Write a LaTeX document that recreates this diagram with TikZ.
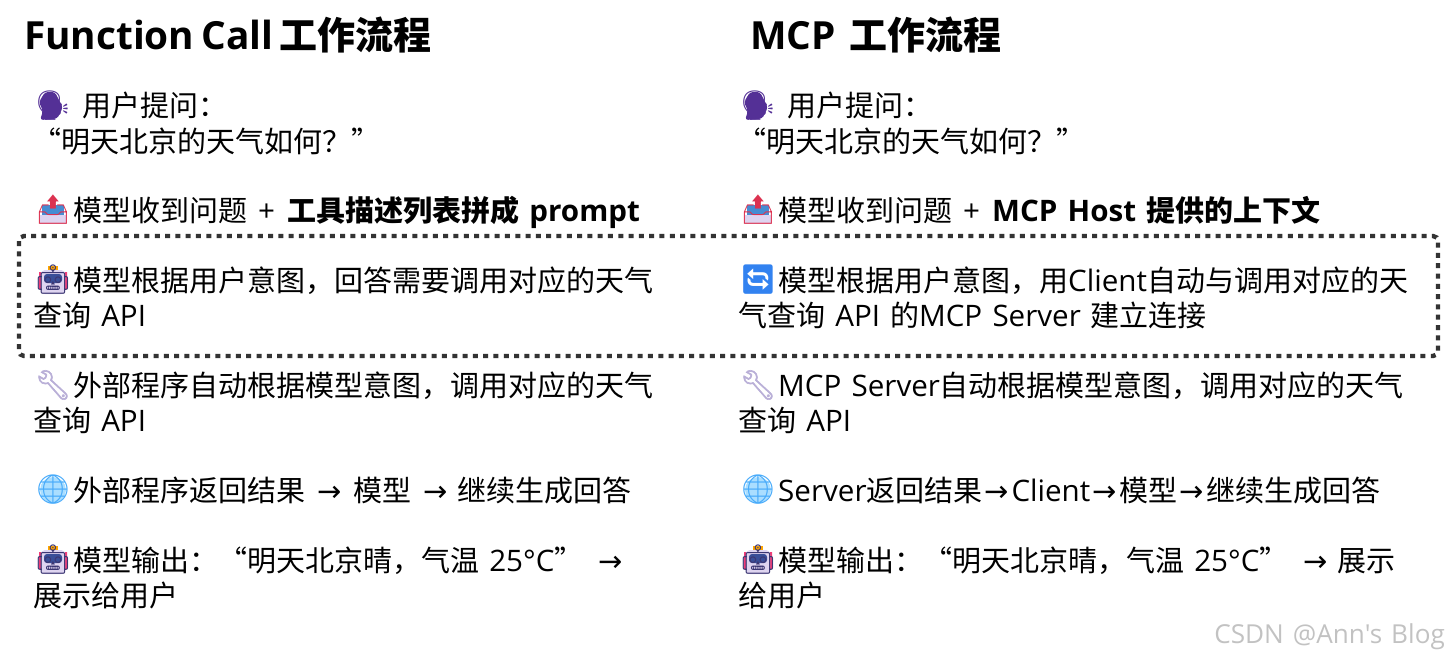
\documentclass[tikz,border=0pt]{standalone}
\usepackage{xcolor}
\usepackage{fontspec}
\setmainfont[WordSpace=1.55]{Noto Sans CJK SC}
\newfontfamily\latfont[WordSpace=1.33,Scale=1.02]{Open Sans}
\newfontfamily\arrfont{DejaVu Sans}
\newfontfamily\emofont{Noto Emoji}
\newfontfamily\emogrueso[FakeBold=2]{Noto Emoji}
\newcommand{\lat}[1]{{\latfont #1}}
\newcommand{\arr}{{\arrfont →}}
\definecolor{marco}{RGB}{51,51,51}
\definecolor{morado}{RGB}{84,48,150}
\definecolor{rojo}{RGB}{220,50,80}
\definecolor{lavanda}{RGB}{222,212,240}
\definecolor{rosa}{RGB}{240,60,120}
\definecolor{marino}{RGB}{60,55,115}
\definecolor{azul}{RGB}{50,130,240}
\definecolor{bandeja}{RGB}{70,140,210}
\definecolor{llave}{RGB}{185,175,215}
\definecolor{globo}{RGB}{70,170,250}
\definecolor{celeste}{RGB}{170,222,255}

\begin{document}
\begin{tikzpicture}[
  x=1pt, y=-1pt,
  linea/.style={anchor=base west, inner sep=0pt, yshift=-1pt, font=\fontsize{29}{35}\selectfont},
  titulo/.style={anchor=base west, inner sep=0pt, font=\fontsize{38}{44}\selectfont\bfseries},
  emoji/.style={inner sep=0pt, font=\fontsize{29}{35}\selectfont\emofont},
  marco/.style={draw=marco, line width=4.4pt, rounded corners=5pt, dash pattern=on 5pt off 5.3pt},
  cabeza/.pic={\fill[morado, rounded corners=3pt] (-14,-4) -- (-8,-14) -- (2,-14) -- (6,-6) -- (10,2) -- (7,6)
                -- (6,11) -- (1,13) -- (-13,14) -- (-10,5) -- cycle;},
  entrada/.pic={\fill[bandeja] (-11,-5) rectangle (11,8);
                \fill[lavanda] (-13,5) rectangle (13,14);},
  robotin/.pic={\fill[rosa] (-14,-8) rectangle (-12,9) (12,-8) rectangle (14,9);
                \fill[orange!70!yellow] (-5,-14) rectangle (5,-10);
                \fill[lavanda, rounded corners=4pt] (-12,-10) rectangle (12,14);
                \fill[marino!70!azul, rounded corners=3pt] (-9,-6) rectangle (9,3);},
  mundo/.pic={\fill[celeste] (0,0) circle (13);}
]
\useasboundingbox (0,0) rectangle (1448,659);

\node[titulo] (tfc) at (24,49) {\lat{Function\hspace{-6pt} Call}\hspace{-8pt} 工作流程};
\node[titulo] (tmcp) at (750,49) {\lat{MCP} 工作流程};

% columna izquierda
\pic at (53,106) {cabeza};
\node[emoji, morado] (e1) at (53,106) {^^^^^^01f5e3};
\node[linea] (a1) at (82,115) {用户提问：};
\node[linea] (a1b) at (32,151) {“明天北京的天气如何？”};
\pic at (53,210) {entrada};
\node[emoji, rojo] (e2) at (53,210) {^^^^^^01f4e4};
\node[linea] (a2) at (73,220) {模型收到问题\hspace{11pt}\lat{+}\hspace{12pt}\textbf{工具描述列表拼成 \lat{prompt}}};
\pic at (53,280) {robotin};
\node[emoji, marino] (e3) at (53,280) {^^^^^^01f916};
\node[linea] (a3) at (73,290) {模型根据用户意图，回答需要调用对应的天气};
\node[linea] (a3b) at (33,325) {查询 \lat{API}};
\node[emoji, llave, font=\fontsize{29}{35}\selectfont\emogrueso] (e4) at (53,385) {^^^^^^01f527};
\node[linea] (a4) at (73,395) {外部程序自动根据模型意图，调用对应的天气};
\node[linea] (a4b) at (33,430) {查询 \lat{API}};
\pic at (53,490) {mundo};
\node[emoji, globo] (e5) at (53,490) {^^^^^^01f310};
\node[linea] (a5) at (73,500) {外部程序返回结果\hspace{12pt}\arr\hspace{12pt}模型\hspace{12pt}\arr\hspace{10pt}继续生成回答};
\pic at (53,560) {robotin};
\node[emoji, marino] (e6) at (53,560) {^^^^^^01f916};
\node[linea] (a6) at (73,570) {模型输出：“明天北京晴，气温 \lat{25°C}”\hspace{15pt}\arr};
\node[linea] (a6b) at (33,605) {展示给用户};

% columna derecha
\pic at (758,106) {cabeza};
\node[emoji, morado] (f1) at (758,106) {^^^^^^01f5e3};
\node[linea] (b1) at (787,115) {用户提问：};
\node[linea] (b1b) at (737,151) {“明天北京的天气如何？”};
\pic at (758,210) {entrada};
\node[emoji, rojo] (f2) at (758,210) {^^^^^^01f4e4};
\node[linea] (b2) at (778,220) {模型收到问题\hspace{11pt}\lat{+}\hspace{12pt}\textbf{\lat{MCP Host} 提供的上下文}};
\node[emoji, azul] (f3) at (758,280) {^^^^^^01f504};
\node[linea] (b3) at (778,290) {模型根据用户意图，用\lat{Client}自动与调用对应的天};
\node[linea] (b3b) at (738,325) {气查询 \lat{API} 的\lat{MCP Server} 建立连接};
\node[emoji, llave, font=\fontsize{29}{35}\selectfont\emogrueso] (f4) at (758,385) {^^^^^^01f527};
\node[linea] (b4) at (778,395) {\lat{MCP Server}自动根据模型意图，调用对应的天气};
\node[linea] (b4b) at (738,430) {查询 \lat{API}};
\pic at (758,490) {mundo};
\node[emoji, globo] (f5) at (758,490) {^^^^^^01f310};
\node[linea] (b5) at (778,500) {\lat{Server}返回结果\hspace{2.3pt}\arr\hspace{2.3pt}\lat{Client}\hspace{2.3pt}\arr\hspace{2.3pt}模型\hspace{2.3pt}\arr\hspace{2.3pt}继续生成回答};
\pic at (758,560) {robotin};
\node[emoji, marino] (f6) at (758,560) {^^^^^^01f916};
\node[linea] (b6) at (778,570) {模型输出：“明天北京晴，气温 \lat{25°C}”\hspace{15pt}\arr\hspace{10pt}展示};
\node[linea] (b6b) at (738,605) {给用户};

\draw[marco] (19,236) rectangle (1438,356);

\node[anchor=base east, inner sep=0pt, text=black!24, font=\fontsize{25.6}{32}\selectfont\latfont] (marca) at (1445,643) {CSDN @Ann's Blog};
\end{tikzpicture}
\end{document}
